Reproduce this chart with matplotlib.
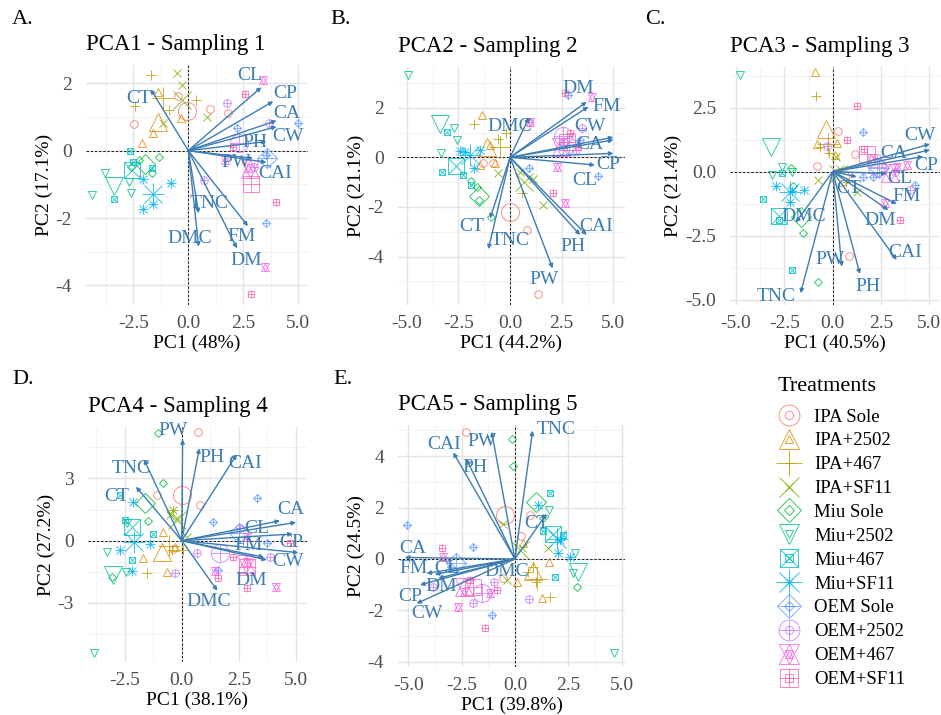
import matplotlib
matplotlib.use("Agg")
import matplotlib.pyplot as plt
import numpy as np
from matplotlib.ticker import MultipleLocator
from matplotlib.lines import Line2D

plt.rcParams['font.family'] = ['Liberation Serif', 'DejaVu Serif']
plt.rcParams['axes.unicode_minus'] = False

treatments = ['IPA Sole', 'IPA+2502', 'IPA+467', 'IPA+SF11',
              'Miu Sole', 'Miu+2502', 'Miu+467', 'Miu+SF11',
              'OEM Sole', 'OEM+2502', 'OEM+467', 'OEM+SF11']
colors = ['#F8766D', '#DE8C00', '#B79F00', '#7CAE00', '#00BA38', '#00C08B',
          '#00BFC4', '#00B4F0', '#619CFF', '#C77CFF', '#F564E3', '#FF64B0']
variables = ['CL', 'CP', 'CA', 'CW', 'PH', 'PW', 'CAI', 'TNC', 'DMC', 'FM', 'DM', 'CT']

# ---- Sampling 1 ----
a_tip_x = [3.32, 3.86, 4.01, 4.01, 3.55, 2.94, 3.55, 0.47, 0.47, 2.71, 2.21, -1.71]
a_tip_y = [1.88, 1.46, 0.89, 0.71, 0.27, -0.23, -0.35, -1.86, -2.85, -2.24, -2.90, 1.82]
a_lab_x = [2.79, 4.39, 4.47, 4.54, 3.02, 2.18, 3.93, 0.93, 0.05, 2.41, 2.64, -2.24]
a_lab_y = [2.22, 1.70, 1.11, 0.42, 0.24, -0.35, -0.67, -1.58, -2.60, -2.55, -3.25, 1.55]
a_pts_x = [[-2.47, -0.49, 0.99, 1.80], [-2.09, -1.59, -1.40, -0.34], [-1.71, -2.42, 0.35, -0.90],
           [-0.52, -0.30, -1.17, 0.85], [-2.62, -2.24, -1.33, -1.63], [-4.37, -3.80, -2.59, -2.70],
           [-2.67, -3.38, -1.63, -2.50], [-2.04, -0.79, -1.60, -2.06], [2.21, 5.00, 3.55, 3.52],
           [1.77, 3.67, 0.73, 3.00], [3.40, 3.48, 1.69, 2.71], [2.56, 3.98, 2.87, 2.03]]
a_pts_y = [[0.78, 1.62, 1.23, 1.11], [0.22, 0.51, 1.75, 0.96], [2.25, 1.31, 1.50, 1.20],
           [2.30, 1.95, 0.81, 1.00], [-0.48, -0.28, -0.18, -0.67], [-1.32, -0.67, -1.25, -0.92],
           [0.00, -1.45, -0.52, -0.35], [-0.85, -0.97, -1.58, -1.74], [0.66, 0.81, -0.13, -2.16],
           [1.41, 0.81, -0.87, -0.50], [2.10, -3.45, -0.28, -0.52], [1.68, -1.51, -4.24, 0.12]]

# ---- Sampling 2 ----
b_tip_x = [4.11, 5.00, 5.00, 5.00, 3.39, 2.06, 3.71, -1.05, 0.92, 3.79, 3.71, -0.97]
b_tip_y = [-0.31, 0.16, 0.70, 0.81, -3.13, -4.47, -3.13, -3.70, 1.61, 2.04, 2.24, -2.46]
b_lab_x = [3.63, 4.76, 3.87, 3.87, 3.02, 1.65, 4.16, 0.00, 0.00, 4.68, 3.31, -1.85]
b_lab_y = [-0.95, -0.27, 0.50, 1.26, -3.60, -4.94, -2.79, -3.36, 1.23, 2.04, 2.78, -2.79]
b_pts_x = [[-1.29, 0.81, 1.37, -0.81], [-1.37, -0.97, -1.45, -0.73], [-1.74, -0.60, -0.20, 0.56],
           [-0.56, 1.10, 0.50, 1.61], [-1.90, -1.48, -0.94, -1.60], [-4.92, -3.35, -2.58, -2.70],
           [-3.03, -3.31, -2.26, -1.89], [-2.18, -1.45, -1.74, -2.40], [2.82, 3.39, 0.94, 4.27],
           [0.94, 3.47, 2.60, 3.20], [0.97, 3.95, 2.26, 2.66], [2.66, 2.10, 2.90, 3.30]]
b_pts_y = [[-0.24, -2.93, -5.50, -0.21], [1.70, 0.50, -0.31, -0.24], [1.34, 0.75, 1.00, -1.42],
           [-0.64, -0.89, -0.60, -1.92], [-0.95, -1.72, -2.42, -1.20], [3.32, 0.16, 0.70, 1.20],
           [1.03, -0.58, -0.71, -1.11], [0.23, 0.30, -0.44, 0.25], [2.51, 0.70, -0.44, -0.75],
           [1.44, 1.17, 0.60, 0.30], [1.44, 2.44, -0.38, -1.85], [2.58, -1.45, 1.00, 0.40]]

# ---- Sampling 3 ----
c_tip_x = [2.79, 4.69, 5.03, 5.03, 1.41, 0.47, 3.31, -1.66, -1.91, 3.31, 2.88, 1.24]
c_tip_y = [-0.07, 0.59, 0.85, 1.08, -4.00, -3.71, -3.45, -4.75, -1.99, -1.26, -1.50, -0.20]
c_lab_x = [3.48, 4.86, 3.14, 4.52, 1.84, -0.14, 3.74, -2.90, -1.52, 3.83, 2.45, 0.81]
c_lab_y = [-0.26, 0.26, 0.72, 1.43, -4.47, -3.45, -3.15, -4.86, -1.76, -0.98, -1.91, -0.65]
c_pts_x = [[-0.79, 0.29, 1.16, 0.86], [-0.91, -0.83, 0.21, 0.12], [-0.86, -0.66, -0.17, 0.70],
           [-0.74, 0.16, 1.24, 0.40], [-2.17, -2.07, -1.55, -0.74], [-4.79, -2.64, -3.16, -2.10],
           [-3.59, -2.12, -2.64, -2.80], [-2.95, -2.12, -1.48, -2.21], [1.59, 1.59, 2.07, 4.26],
           [-0.28, 2.28, 3.20, 4.00], [3.31, 3.83, 2.71, 2.00], [1.24, 0.72, 3.48, 1.60]]
c_pts_y = [[0.23, 1.60, 0.69, -3.29], [3.88, 1.08, 1.11, 0.65], [2.96, 0.98, 0.74, -0.40],
           [-0.33, 0.59, -0.78, 0.10], [0.13, -0.56, -2.38, -4.30], [3.78, 0.20, -0.13, 0.00],
           [-1.08, -3.84, -0.07, -1.90], [-0.56, -0.74, -0.72, -1.17], [1.56, -0.20, -0.20, -0.52],
           [1.00, 0.52, 0.00, -0.72], [0.20, 0.26, -1.24, 0.55], [2.57, 1.24, -1.89, 0.90]]

# ---- Sampling 4 ----
d_tip_x = [4.30, 4.85, 5.00, 5.10, 0.77, 0.04, 2.41, -1.65, 1.56, 3.60, 3.72, -2.00]
d_tip_y = [0.96, 0.32, 0.88, -0.58, 4.45, 4.89, 4.16, 3.92, -2.41, -0.80, -0.93, 2.60]
d_lab_x = [3.28, 4.81, 4.77, 4.66, 1.31, -0.36, 2.77, -2.22, 1.17, 2.92, 3.06, -2.84]
d_lab_y = [0.59, -0.10, 1.48, -1.01, 4.02, 5.30, 3.70, 3.49, -2.94, -0.21, -1.90, 2.12]
d_pts_x = [[0.69, -1.09, 0.80, -0.40], [-0.80, -1.68, -0.66, -0.29], [-1.53, -0.44, -0.36, 0.07],
           [-0.36, -0.51, 0.22, -0.20], [-1.02, -0.80, -1.46, -3.06], [-3.83, -3.28, -2.41, -2.45],
           [-2.70, -2.19, -1.27, -2.50], [-2.70, -2.11, -2.19, -1.38], [1.38, 3.28, 1.57, 3.72],
           [0.66, -0.29, 3.86, 2.55], [1.46, 4.13, 2.84, 2.84], [1.60, 2.26, 2.87, 4.74]]
d_pts_y = [[5.26, 2.20, 1.72, -0.40], [0.43, -0.85, -1.50, -0.29], [-1.58, -0.45, 1.48, -0.45],
           [1.48, 1.24, 0.19, 1.10], [5.21, 2.80, 0.96, -1.74], [-5.40, -0.53, 0.84, -1.50],
           [2.20, -0.93, 0.32, 1.00], [-0.45, 1.88, -1.45, -0.16], [0.92, 2.04, -1.41, -0.13],
           [-0.61, -1.58, -0.77, 0.60], [-1.45, -2.22, -1.01, 0.19], [-1.82, -0.77, -2.27, -0.13]]

# ---- Sampling 5 ----
e_tip_x = [-3.75, -4.45, -5.16, -4.61, -2.27, -1.09, -2.89, 0.83, -1.30, -4.14, -3.59, 1.48]
e_tip_y = [-0.60, -1.01, 0.06, -1.73, 3.88, 4.95, 4.14, 4.99, -0.25, -0.56, -0.75, 1.75]
e_lab_x = [-3.20, -4.92, -4.77, -4.14, -1.88, -1.56, -3.33, 1.95, -0.39, -4.77, -3.44, 1.02]
e_lab_y = [-0.36, -1.47, 0.42, -2.11, 3.57, 4.57, 4.47, 5.05, -0.49, -0.36, -1.08, 1.39]
e_pts_x = [[-2.27, 0.70, -0.55, 0.30], [0.39, 0.08, 1.61, 1.25], [0.86, 1.64, 0.60, 1.00],
           [-0.58, 0.31, 1.56, -0.39], [-0.16, -0.08, 2.89, 1.30], [1.61, 2.81, 2.70, 4.64],
           [1.64, 1.33, 2.27, 1.88], [1.09, 2.11, 2.03, 2.58], [-5.05, -1.98, -1.09, -3.00],
           [-3.83, -1.98, 0.67, -1.00], [-3.36, -2.66, -1.17, -2.40], [-3.44, -1.41, -0.86, -2.10]]
e_pts_y = [[4.95, 1.71, -0.75, 0.90], [0.61, -0.88, -0.10, -1.53], [-0.30, -1.47, -0.50, -0.90],
           [1.36, 0.41, 0.41, -0.82], [4.66, 3.62, -1.08, 1.60], [1.91, 0.25, -0.56, -3.67],
           [2.56, 1.10, 0.93, -0.69], [2.10, 0.74, 0.22, 0.09], [1.32, 0.48, -2.18, -0.30],
           [-1.08, -1.70, -1.57, -0.90], [0.09, -1.85, -1.34, -1.30], [0.42, -2.70, -1.21, -0.80]]

ARROW = '#3C7DB4'

# ggplot shapes 1..12 built from matplotlib markers
SHAPES = [
    [('o', 1.0)], [('^', 1.0)], [('+', 1.25)], [('x', 1.0)],
    [('D', 0.8)], [('v', 1.0)], [('s', 0.85), ('x', 0.85)], [('+', 1.25), ('x', 1.0)],
    [('D', 0.8), ('+', 1.1)], [('o', 1.0), ('+', 1.0)], [('^', 1.0), ('v', 1.0)],
    [('s', 0.85), ('+', 1.0)],
]


def shape_handles(i, size):
    return [Line2D([], [], linestyle='none', marker=m, markersize=size * f,
                   markerfacecolor='none', markeredgecolor=colors[i],
                   markeredgewidth=0.7, alpha=0.8) for m, f in SHAPES[i]]


def draw_shape(ax, x, y, i, size):
    for m, f in SHAPES[i]:
        ax.plot(x, y, linestyle='none', marker=m, markersize=size * f,
                markerfacecolor='none', markeredgecolor=colors[i],
                markeredgewidth=0.7, alpha=0.8)


fig = plt.figure(figsize=(9.41, 7.15), dpi=100)
W, H = 941.0, 715.0


def box(l, t, r, b):
    return [l / W, 1 - b / H, (r - l) / W, (b - t) / H]


def panel(rect, tag, tag_xy, title, xlab, ylab, px, py, tx, ty, lx, ly,
          xlim, ylim, xticks, xtl, yticks, ytl, xminor, yminor):
    ax = fig.add_axes(rect)
    ax.set_xlim(xlim)
    ax.set_ylim(ylim)
    ax.set_xticks(xticks)
    ax.set_xticklabels(xtl)
    ax.set_yticks(yticks)
    ax.set_yticklabels(ytl)
    ax.xaxis.set_minor_locator(MultipleLocator(xminor))
    ax.yaxis.set_minor_locator(MultipleLocator(yminor))
    ax.grid(which='major', color='#E3E3E3', linewidth=1.0)
    ax.grid(which='minor', color='#F0F0F0', linewidth=0.6)
    ax.set_axisbelow(True)
    for s in ax.spines.values():
        s.set_visible(False)
    ax.tick_params(which='both', length=0, labelsize=14, labelcolor='#4D4D4D')
    ax.tick_params(axis='x', pad=7)
    ax.tick_params(axis='y', pad=10)
    ax.axhline(0, color='black', linewidth=0.6, linestyle=(0, (3, 2)), zorder=1)
    ax.axvline(0, color='black', linewidth=0.6, linestyle=(0, (3, 2)), zorder=1)

    for i in range(len(treatments)):
        draw_shape(ax, px[i], py[i], i, 5.5)
        draw_shape(ax, [np.mean(px[i])], [np.mean(py[i])], i, 13)

    for j, v in enumerate(variables):
        ax.annotate('', xy=(tx[j], ty[j]), xytext=(0, 0),
                    arrowprops=dict(arrowstyle='-|>', color=ARROW, lw=1.0,
                                    mutation_scale=6, shrinkA=0, shrinkB=0),
                    zorder=3)
        ax.text(lx[j], ly[j], v, color=ARROW, fontsize=14, ha='center', va='center',
                zorder=4)

    ax.set_title(title, fontsize=16.5, pad=11, loc='left')
    ax.set_xlabel(xlab, fontsize=14, labelpad=2)
    ax.set_ylabel(ylab, fontsize=14, labelpad=2)
    fig.text(tag_xy[0] / W, 1 - tag_xy[1] / H, tag, fontsize=16, ha='left', va='center')
    return ax


x_a = [-2.5, 0, 2.5, 5.0]
x_b = [-5.0, -2.5, 0, 2.5, 5.0]
xl_a = ['-2.5', '0.0', '2.5', '5.0']
xl_b = ['-5.0', '-2.5', '0.0', '2.5', '5.0']

panel(box(86, 65, 308, 305), 'A.', (12, 19), 'PCA1 - Sampling 1', 'PC1 (48%)', 'PC2 (17.1%)',
      a_pts_x, a_pts_y, a_tip_x, a_tip_y, a_lab_x, a_lab_y,
      (-4.65, 5.44), (-4.58, 2.54), x_a, xl_a, [-4, -2, 0, 2], ['-4', '-2', '0', '2'], 1.25, 1)

panel(box(398, 67, 625, 305), 'B.', (330, 19), 'PCA2 - Sampling 2', 'PC1 (44.2%)', 'PC2 (21.1%)',
      b_pts_x, b_pts_y, b_tip_x, b_tip_y, b_lab_x, b_lab_y,
      (-5.42, 5.56), (-5.95, 3.64), x_b, xl_b, [-4, -2, 0, 2], ['-4', '-2', '0', '2'], 1.25, 1)

panel(box(730, 67, 940, 305), 'C.', (645, 19), 'PCA3 - Sampling 3', 'PC1 (40.5%)', 'PC2 (21.4%)',
      c_pts_x, c_pts_y, c_tip_x, c_tip_y, c_lab_x, c_lab_y,
      (-5.31, 5.55), (-5.21, 4.09), x_b, xl_b, [-5, -2.5, 0, 2.5],
      ['-5.0', '-2.5', '0.0', '2.5'], 1.25, 1.25)

panel(box(88, 427, 307, 662), 'D.', (12, 379), 'PCA4 - Sampling 4', 'PC1 (38.1%)', 'PC2 (27.2%)',
      d_pts_x, d_pts_y, d_tip_x, d_tip_y, d_lab_x, d_lab_y,
      (-4.1, 5.48), (-5.85, 5.48), x_a, xl_a, [-3, 0, 3], ['-3', '0', '3'], 1.25, 1.5)

panel(box(398, 425, 625, 667), 'E.', (333, 379), 'PCA5 - Sampling 5', 'PC1 (39.8%)', 'PC2 (24.5%)',
      e_pts_x, e_pts_y, e_tip_x, e_tip_y, e_lab_x, e_lab_y,
      (-5.48, 5.16), (-4.2, 5.21), x_b, xl_b, [-4, -2, 0, 2, 4],
      ['-4', '-2', '0', '2', '4'], 1.25, 1)

handles = [tuple(shape_handles(i, 15) + shape_handles(i, 6)) for i in range(len(treatments))]
leg = fig.legend(handles, treatments, title='Treatments', loc='upper left',
                 bbox_to_anchor=(761 / W, 1 - 360 / H), frameon=False, fontsize=13.5,
                 title_fontsize=16, labelspacing=0.36, handlelength=1.2, handletextpad=0.75)
leg._legend_box.align = 'left'
leg._legend_box.sep = 9

fig.savefig('out.png', dpi=100)
